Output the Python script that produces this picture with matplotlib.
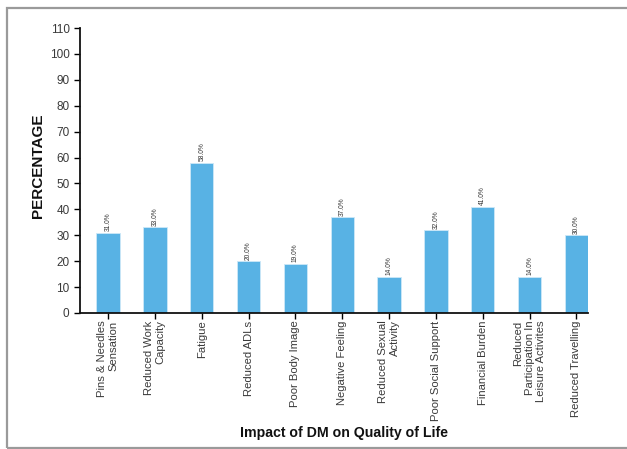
import matplotlib
matplotlib.use("Agg")
import matplotlib.pyplot as plt
from matplotlib.patches import Rectangle

plt.rcParams['font.family'] = ['Liberation Sans', 'DejaVu Sans']

categories = [
    "Pins & Needles\nSensation",
    "Reduced Work\nCapacity",
    "Fatigue",
    "Reduced ADLs",
    "Poor Body Image",
    "Negative Feeling",
    "Reduced Sexual\nActivity",
    "Poor Social Support",
    "Financial Burden",
    "Reduced\nParticipation In\nLeisure Activites",
    "Reduced Travelling",
]
percentages = [31.0, 33.0, 58.0, 20.0, 19.0, 37.0, 14.0, 32.0, 41.0, 14.0, 30.0]
y_ticks = list(range(0, 111, 10))

fig = plt.figure(figsize=(6.27, 4.49), dpi=100)
ax = fig.add_axes([0.1276, 0.303, 0.8104, 0.6346])

x = list(range(len(categories)))
bars = ax.bar(x, percentages, width=0.5, color="#58b2e4",
              edgecolor="#cde8f7", linewidth=0.6)

for xi, v in zip(x, percentages):
    ax.text(xi, v + 0.6, f"{v:.1f}%", rotation=90, ha="center", va="bottom",
            fontsize=4.8, color="#333333")

ax.set_xlim(-0.6, 10.25)
ax.set_ylim(0, 110)
ax.set_yticks(y_ticks)
ax.set_xticks(x)
ax.set_xticklabels(categories, rotation=90, ha="center", va="top",
                   multialignment="right", fontsize=8.1, color="#3a3a3a")
ax.tick_params(axis="y", labelsize=8.5, labelcolor="#3a3a3a", length=4,
               width=1, direction="out")
ax.tick_params(axis="x", length=4, width=1, direction="out", pad=1.5)

for side in ("top", "right"):
    ax.spines[side].set_visible(False)
for side in ("left", "bottom"):
    ax.spines[side].set_linewidth(1.3)
    ax.spines[side].set_color("#111111")

fig.text(38 / 627, 1 - 166 / 449, "PERCENTAGE", rotation=90, ha="center",
         va="center", fontsize=11, fontweight="bold", color="#111111")
fig.text(344 / 627, 1 - 433 / 449, "Impact of DM on Quality of Life",
         ha="center", va="center", fontsize=10.2, fontweight="bold",
         color="#111111")

# outer frame around the chart
frame = Rectangle((7 / 627, 1.5 / 449), 1.0, 1 - 9 / 449,
                  transform=fig.transFigure, fill=False,
                  edgecolor="#9a9a9a", linewidth=1.6, clip_on=False)
fig.patches.append(frame)

fig.savefig("out.png", dpi=100)
